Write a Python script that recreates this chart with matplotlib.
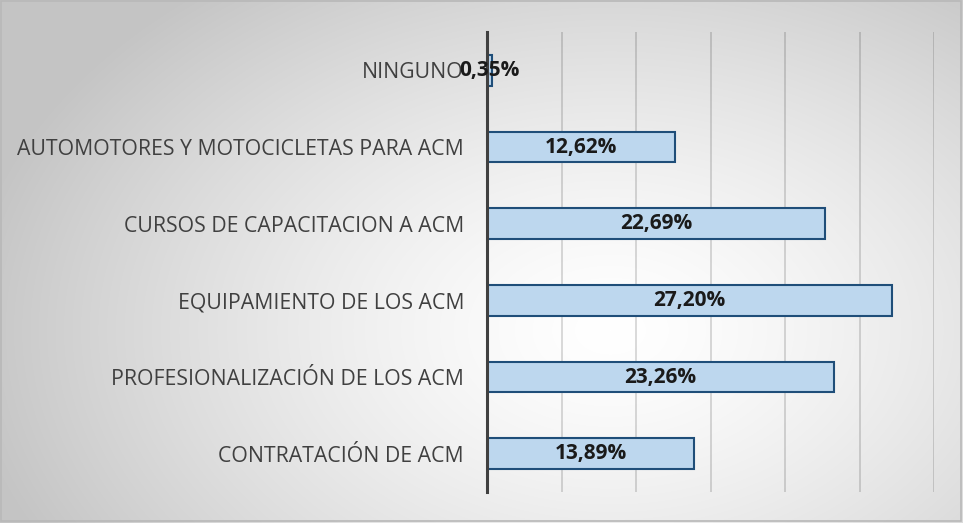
import numpy as np
import matplotlib
matplotlib.use("Agg")
import matplotlib.pyplot as plt
from matplotlib.patches import Rectangle

categories = [
    "CONTRATACIÓN DE ACM",
    "PROFESIONALIZACIÓN DE LOS ACM",
    "EQUIPAMIENTO DE LOS ACM",
    "CURSOS DE CAPACITACION A ACM",
    "AUTOMOTORES Y MOTOCICLETAS PARA ACM",
    "NINGUNO",
]
values = [13.89, 23.26, 27.20, 22.69, 12.62, 0.35]
value_labels = ["13,89%", "23,26%", "27,20%", "22,69%", "12,62%", "0,35%"]

W, H = 963, 523
fig = plt.figure(figsize=(W / 100, H / 100), dpi=100)

# radial gradient background
bg = fig.add_axes([0, 0, 1, 1], zorder=0)
yy, xx = np.mgrid[0:H, 0:W]
cx, cy = 610, 330
t = np.sqrt(((xx - cx) / 650.0) ** 2 + ((yy - cy) / 440.0) ** 2)
t = np.clip(t, 0, 1)
g = 1 - (1 - 0.77) * t ** 1.4
img = np.dstack([g, g, g])
bg.imshow(img, extent=[0, W, H, 0], aspect="auto", interpolation="bilinear")
bg.set_xlim(0, W)
bg.set_ylim(H, 0)
bg.axis("off")
bg.add_patch(Rectangle((1, 1), W - 3, H - 3, fill=False, edgecolor="#b8b8b8", linewidth=1.2))

ax = fig.add_axes([487 / W, 1 - 492 / H, (934 - 487) / W, (492 - 32) / H], zorder=1)
ax.patch.set_alpha(0)
y = np.arange(len(categories))
ax.barh(y, values, height=0.4, color="#BDD7EE", edgecolor="#1F4E79", linewidth=1.5, zorder=3)
ax.set_xlim(0, 30)
ax.set_ylim(-0.5, len(categories) - 0.5)
ax.set_xticks(np.arange(5, 31, 5))
ax.set_xticklabels([])
ax.tick_params(axis="x", length=0)
ax.grid(axis="x", color="black", alpha=0.17, linewidth=1.2, zorder=1)
ax.set_axisbelow(True)
for s in ["top", "right", "bottom"]:
    ax.spines[s].set_visible(False)
ax.spines["left"].set_color("#404040")
ax.spines["left"].set_linewidth(2.2)
ax.spines["left"].set_zorder(4)
ax.set_yticks(y)
ax.set_yticklabels(categories, fontsize=15.3, color="#404040", family="Open Sans")
ax.tick_params(axis="y", length=0, pad=16.5)

for yi, v, lab in zip(y, values, value_labels):
    ax.text(v / 2, yi, lab, ha="center", va="center", fontsize=15,
            fontweight="bold", color="#1a1a1a", family="Open Sans", zorder=5)

fig.savefig("out.png", dpi=100)
